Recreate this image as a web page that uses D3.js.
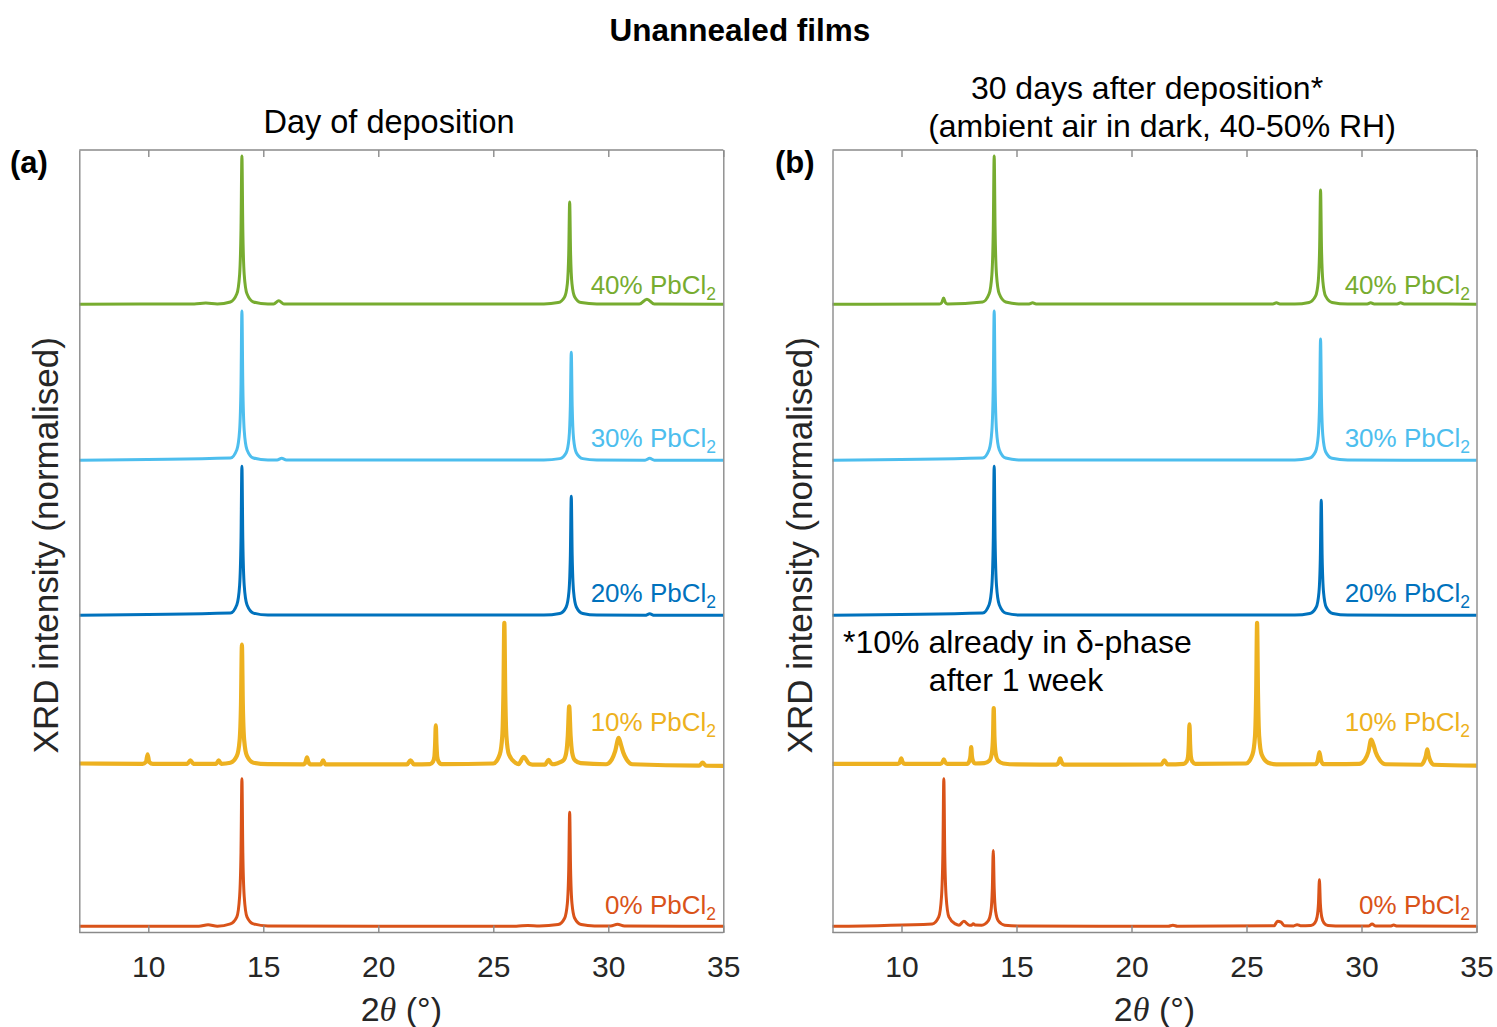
<!DOCTYPE html>
<html><head><meta charset="utf-8">
<script src="https://cdn.jsdelivr.net/npm/d3@7"></script>
<style>body{margin:0;background:#fff} svg{display:block}</style>
</head><body>
<svg id="c" width="1497" height="1027"></svg>
<script>
// ---------- DATA (2θ in degrees, normalised intensity) ----------
const seriesNames = ["0% PbCl", "10% PbCl", "20% PbCl", "30% PbCl", "40% PbCl"];
const seriesColors = ["#D95319", "#EDB120", "#0072BD", "#4DBEEE", "#77AC30"];
const xTicks = [10, 15, 20, 25, 30, 35];
const stackOffsets = [0, 1, 2, 3, 4];

// Panel (a): day of deposition
const a_0 = [[7,0.04],[12.2,0.04],[12.6,0.05],[13.0,0.04],[13.57,0.055],[13.85,0.1],[13.97,0.23],[14.03,0.51],[14.07,0.983],[14.11,0.51],[14.17,0.23],[14.29,0.1],[14.57,0.055],[15.2,0.042],[20,0.04],[26,0.04],[26.5,0.045],[27.0,0.042],[27.82,0.051],[28.1,0.091],[28.22,0.186],[28.28,0.405],[28.32,0.769],[28.36,0.405],[28.42,0.186],[28.54,0.091],[28.82,0.051],[29.4,0.042],[30.1,0.042],[30.4,0.053],[30.7,0.042],[35,0.04]];
const a_10 = [[7,0.08],[9.75,0.078],[9.9,0.09],[9.97,0.138],[10.04,0.09],[10.2,0.078],[11.7,0.078],[11.83,0.1],[11.96,0.078],[12.95,0.078],[13.06,0.1],[13.17,0.078],[13.57,0.085],[13.85,0.128],[13.97,0.227],[14.03,0.457],[14.07,0.84],[14.11,0.457],[14.17,0.227],[14.29,0.128],[14.57,0.085],[15.2,0.076],[16.75,0.074],[16.84,0.09],[16.9,0.119],[16.96,0.09],[17.05,0.074],[17.5,0.074],[17.6,0.1],[17.7,0.074],[21.25,0.074],[21.4,0.1],[21.55,0.074],[22.25,0.076],[22.38,0.092],[22.44,0.124],[22.47,0.2],[22.5,0.324],[22.53,0.2],[22.56,0.124],[22.62,0.092],[22.75,0.076],[25.0,0.08],[25.28,0.137],[25.39,0.255],[25.44,0.526],[25.48,0.978],[25.52,0.526],[25.57,0.255],[25.68,0.137],[25.96,0.085],[26.1,0.076],[26.32,0.122],[26.55,0.08],[26.7,0.073],[27.25,0.073],[27.4,0.103],[27.55,0.075],[27.8,0.082],[28.05,0.1],[28.17,0.148],[28.24,0.26],[28.3,0.445],[28.36,0.26],[28.43,0.148],[28.55,0.1],[28.8,0.082],[29.9,0.075],[30.15,0.105],[30.3,0.159],[30.45,0.243],[30.55,0.2],[30.65,0.15],[30.8,0.105],[31.05,0.075],[33.95,0.066],[34.1,0.085],[34.25,0.066],[35,0.065]];
const a_20 = [[7,0.027],[13.57,0.041],[13.85,0.094],[13.97,0.218],[14.03,0.504],[14.07,0.98],[14.11,0.504],[14.17,0.218],[14.29,0.094],[14.57,0.041],[15.2,0.028],[27.2,0.028],[27.89,0.038],[28.17,0.08],[28.29,0.179],[28.35,0.408],[28.39,0.788],[28.43,0.408],[28.49,0.179],[28.61,0.08],[28.89,0.038],[29.5,0.028],[31.6,0.027],[31.8,0.036],[32.0,0.027],[35,0.027]];
const a_30 = [[7,0.018],[13.57,0.032],[13.85,0.085],[13.97,0.209],[14.03,0.495],[14.07,0.971],[14.11,0.495],[14.17,0.209],[14.29,0.085],[14.57,0.032],[15.2,0.019],[15.6,0.019],[15.8,0.03],[16.0,0.019],[27.2,0.019],[27.89,0.028],[28.17,0.066],[28.29,0.156],[28.35,0.363],[28.39,0.708],[28.43,0.363],[28.49,0.156],[28.61,0.066],[28.89,0.028],[29.5,0.019],[31.6,0.018],[31.8,0.03],[32.0,0.018],[35,0.018]];
const a_40 = [[7,0.015],[12.0,0.016],[12.5,0.022],[13.0,0.016],[13.57,0.029],[13.85,0.081],[13.97,0.204],[14.03,0.489],[14.07,0.962],[14.11,0.489],[14.17,0.204],[14.29,0.081],[14.57,0.029],[15.2,0.016],[15.45,0.016],[15.67,0.036],[15.9,0.016],[27.2,0.016],[27.82,0.025],[28.1,0.061],[28.22,0.146],[28.28,0.342],[28.32,0.668],[28.36,0.342],[28.42,0.146],[28.54,0.061],[28.82,0.025],[29.5,0.016],[31.35,0.016],[31.68,0.047],[32.0,0.016],[35,0.015]];

// Panel (b): 30 days after deposition
const b_0 = [[7,0.04],[11.34,0.055],[11.62,0.1],[11.74,0.23],[11.8,0.51],[11.84,0.983],[11.88,0.51],[11.94,0.23],[12.06,0.1],[12.34,0.055],[12.5,0.047],[12.71,0.072],[12.95,0.047],[13.05,0.047],[13.12,0.056],[13.2,0.048],[13.49,0.047],[13.77,0.074],[13.89,0.137],[13.95,0.282],[13.99,0.524],[14.03,0.282],[14.09,0.137],[14.21,0.074],[14.49,0.047],[15.2,0.041],[21.6,0.04],[21.8,0.046],[22.0,0.04],[26.2,0.043],[26.35,0.072],[26.5,0.066],[26.65,0.043],[27.05,0.042],[27.2,0.05],[27.35,0.043],[27.8,0.045],[27.97,0.061],[28.07,0.1],[28.13,0.188],[28.17,0.337],[28.21,0.188],[28.27,0.1],[28.37,0.061],[28.54,0.045],[29.2,0.041],[30.3,0.041],[30.46,0.054],[30.62,0.041],[31.25,0.041],[31.4,0.048],[31.55,0.041],[35,0.04]];
const b_10 = [[7,0.078],[9.85,0.077],[9.93,0.088],[9.99,0.113],[10.05,0.088],[10.15,0.077],[11.7,0.077],[11.78,0.088],[11.84,0.107],[11.9,0.088],[11.98,0.077],[12.85,0.078],[12.95,0.095],[13.0,0.13],[13.03,0.185],[13.06,0.13],[13.11,0.095],[13.21,0.08],[13.6,0.082],[13.83,0.1],[13.93,0.147],[13.98,0.255],[14.01,0.434],[14.04,0.255],[14.09,0.147],[14.19,0.1],[14.42,0.08],[15.0,0.074],[16.75,0.073],[16.84,0.09],[16.9,0.113],[16.96,0.09],[17.05,0.073],[21.3,0.074],[21.43,0.1],[21.56,0.074],[22.27,0.078],[22.4,0.093],[22.46,0.126],[22.49,0.2],[22.52,0.33],[22.55,0.2],[22.58,0.126],[22.64,0.093],[22.77,0.078],[24.98,0.08],[25.26,0.137],[25.37,0.255],[25.42,0.526],[25.46,0.978],[25.5,0.526],[25.55,0.255],[25.66,0.137],[25.94,0.085],[26.3,0.074],[28.0,0.076],[28.1,0.1],[28.17,0.153],[28.24,0.1],[28.35,0.076],[29.9,0.077],[30.15,0.105],[30.3,0.155],[30.42,0.232],[30.52,0.2],[30.62,0.15],[30.78,0.105],[31.05,0.075],[32.6,0.072],[32.72,0.095],[32.8,0.13],[32.86,0.17],[32.92,0.13],[33.0,0.095],[33.15,0.072],[35,0.066]];
const b_20 = [[7,0.027],[13.53,0.041],[13.81,0.094],[13.93,0.218],[13.99,0.504],[14.03,0.98],[14.07,0.504],[14.13,0.218],[14.25,0.094],[14.53,0.041],[15.2,0.028],[27.1,0.028],[27.75,0.038],[28.03,0.078],[28.15,0.174],[28.21,0.395],[28.25,0.762],[28.29,0.395],[28.35,0.174],[28.47,0.078],[28.75,0.038],[29.4,0.028],[35,0.027]];
const b_30 = [[7,0.018],[13.53,0.032],[13.81,0.085],[13.93,0.209],[13.99,0.495],[14.03,0.971],[14.07,0.495],[14.13,0.209],[14.25,0.085],[14.53,0.032],[15.2,0.019],[27.1,0.019],[27.72,0.03],[28.0,0.072],[28.12,0.173],[28.18,0.405],[28.22,0.792],[28.26,0.405],[28.32,0.173],[28.44,0.072],[28.72,0.03],[29.4,0.019],[35,0.018]];
const b_40 = [[7,0.015],[11.65,0.016],[11.75,0.025],[11.83,0.054],[11.91,0.025],[12.0,0.016],[13.53,0.029],[13.81,0.081],[13.93,0.204],[13.99,0.489],[14.03,0.962],[14.07,0.489],[14.13,0.204],[14.25,0.081],[14.53,0.029],[15.2,0.016],[15.55,0.016],[15.7,0.024],[15.85,0.016],[26.15,0.016],[26.3,0.024],[26.45,0.016],[27.1,0.016],[27.72,0.026],[28.0,0.066],[28.12,0.161],[28.18,0.38],[28.22,0.744],[28.26,0.38],[28.32,0.161],[28.44,0.066],[28.72,0.026],[29.4,0.016],[30.25,0.016],[30.4,0.024],[30.55,0.016],[31.55,0.016],[31.7,0.024],[31.85,0.016],[35,0.015]];

const panelA = [a_0, a_10, a_20, a_30, a_40];
const panelB = [b_0, b_10, b_20, b_30, b_40];

// ---------- LAYOUT ----------
const svg = d3.select("#c");
const font = "'Liberation Sans', Arial, Helvetica, sans-serif";
const plotTop = 150, plotBottom = 932.5;
const panels = [
  {data: panelA, x0: 79.3, x1: 723.3, tag: "(a)", tagX: 10, labelEnd: 716},
  {data: panelB, x0: 832.5, x1: 1476.5, tag: "(b)", tagX: 775, labelEnd: 1470}
];
const labelDy = [0.118, 0.29, 0.11, 0.10, 0.08];
const lineW = [3, 4.2, 3, 3, 3];

svg.append("text").attr("x", 740).attr("y", 41).attr("text-anchor", "middle")
  .attr("font-family", font).attr("font-weight", "bold").attr("font-size", 31.5)
  .attr("fill", "#000").text("Unannealed films");

panels.forEach((p, pi) => {
  const x = d3.scaleLinear().domain([7, 35]).range([p.x0, p.x1]);
  const y = d3.scaleLinear().domain([0, 5]).range([plotBottom, plotTop]);
  const g = svg.append("g");

  const line = d3.line().x(d => x(d[0])).y(d => y(d[1])).curve(d3.curveMonotoneX);
  p.data.forEach((s, i) => {
    g.append("path")
      .datum(s.map(d => [d[0], d[1] + stackOffsets[i]]))
      .attr("fill", "none").attr("stroke", seriesColors[i])
      .attr("stroke-width", lineW[i]).attr("stroke-linejoin", "round")
      .attr("d", line);
  });

  const axB = g.append("g").attr("transform", `translate(0,${plotBottom})`)
    .call(d3.axisBottom(x).tickValues(xTicks).tickSize(-7).tickPadding(23).tickFormat(d3.format("d")));
  const axT = g.append("g").attr("transform", `translate(0,${plotTop})`)
    .call(d3.axisTop(x).tickValues(xTicks).tickSize(-7).tickFormat(""));
  const axL = g.append("g").attr("transform", `translate(${p.x0},0)`)
    .call(d3.axisLeft(y).tickValues([]).tickSizeOuter(0));
  const axR = g.append("g").attr("transform", `translate(${p.x1},0)`)
    .call(d3.axisRight(y).tickValues([]).tickSizeOuter(0));
  [axB, axT, axL, axR].forEach(a => {
    a.selectAll("path.domain").attr("stroke", "#8a8a8a").attr("stroke-width", 1.4);
    a.selectAll(".tick line").attr("stroke", "#8a8a8a").attr("stroke-width", 1.4);
  });
  axB.selectAll(".tick text").attr("font-family", font).attr("font-size", 30).attr("fill", "#262626");
  axB.select("path.domain").attr("d", `M${p.x0},0H${p.x1}`);
  axT.select("path.domain").attr("d", `M${p.x0},0H${p.x1}`);

  seriesNames.forEach((n, i) => {
    const t = g.append("text").attr("x", p.labelEnd).attr("y", y(stackOffsets[i] + labelDy[i]))
      .attr("text-anchor", "end").attr("font-family", font).attr("font-size", 26)
      .attr("fill", seriesColors[i]);
    t.append("tspan").text(n);
    t.append("tspan").attr("font-size", 17.5).attr("dy", 6).text("2");
  });

  const xt = g.append("text").attr("x", (p.x0 + p.x1) / 2).attr("y", 1021).attr("text-anchor", "middle")
    .attr("font-family", font).attr("font-size", 34).attr("fill", "#262626");
  xt.append("tspan").text("2");
  xt.append("tspan").attr("font-style", "italic").attr("font-family", "'Liberation Serif', 'Times New Roman', serif").text("θ");
  xt.append("tspan").text(" (°)");

  g.append("text").attr("transform", `translate(${p.x0 - 21},${(plotTop + plotBottom) / 2 + 4}) rotate(-90)`)
    .attr("text-anchor", "middle").attr("font-family", font).attr("font-size", 35).attr("fill", "#262626")
    .text("XRD intensity (normalised)");

  g.append("text").attr("x", p.tagX).attr("y", 173).attr("font-family", font)
    .attr("font-weight", "bold").attr("font-size", 31).attr("fill", "#000").text(p.tag);
});

svg.append("text").attr("x", 389).attr("y", 133).attr("text-anchor", "middle")
  .attr("font-family", font).attr("font-size", 32.5).attr("fill", "#000").text("Day of deposition");
svg.append("text").attr("x", 1147).attr("y", 99).attr("text-anchor", "middle")
  .attr("font-family", font).attr("font-size", 32).attr("fill", "#000").text("30 days after deposition*");
svg.append("text").attr("x", 1162).attr("y", 137).attr("text-anchor", "middle")
  .attr("font-family", font).attr("font-size", 32).attr("fill", "#000").text("(ambient air in dark, 40-50% RH)");

svg.append("text").attr("x", 843).attr("y", 653)
  .attr("font-family", font).attr("font-size", 32).attr("fill", "#000").text("*10% already in δ-phase");
svg.append("text").attr("x", 1016).attr("y", 691).attr("text-anchor", "middle")
  .attr("font-family", font).attr("font-size", 32).attr("fill", "#000").text("after 1 week");
</script>
</body></html>
